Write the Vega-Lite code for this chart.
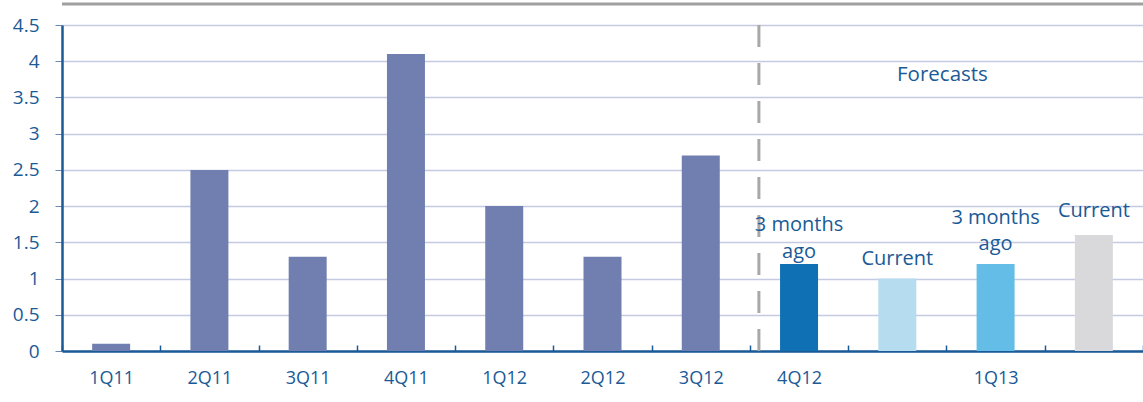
{
  "$schema": "https://vega.github.io/schema/vega-lite/v6.json",
  "width": 1081,
  "height": 326,
  "autosize": {"type": "none"},
  "padding": {"left": 62, "top": 25, "right": 0, "bottom": 51},
  "background": "white",
  "config": {
    "font": "Open Sans",
    "view": {"stroke": null},
    "axisY": {
      "labelFont": "Open Sans", "labelColor": "#1a5a96", "labelFontSize": 19,
      "gridColor": "#c5cae3", "gridWidth": 1.5,
      "domainColor": "#1a5a96", "domainWidth": 2.5,
      "tickColor": "#6a88b8", "tickSize": 7, "labelPadding": 16
    },
    "axisX": {
      "labelFont": "Open Sans", "labelColor": "#1a5a96", "labelFontSize": 18,
      "domainColor": "#1a5a96", "domainWidth": 2.5,
      "tickColor": "#1a5a96", "tickWidth": 1.5, "labelPadding": 24
    }
  },
  "data": {
    "values": [
      {"k": "1Q11", "v": 0.1, "s": "hist"},
      {"k": "2Q11", "v": 2.5, "s": "hist"},
      {"k": "3Q11", "v": 1.3, "s": "hist"},
      {"k": "4Q11", "v": 4.1, "s": "hist"},
      {"k": "1Q12", "v": 2.0, "s": "hist"},
      {"k": "2Q12", "v": 1.3, "s": "hist"},
      {"k": "3Q12", "v": 2.7, "s": "hist"},
      {"k": "4Q12", "v": 1.2, "s": "4Q12 3m", "note": ["3 months", "ago"]},
      {"k": "f2", "v": 1.0, "s": "4Q12 cur", "note": ["Current"]},
      {"k": "1Q13", "v": 1.2, "s": "1Q13 3m", "note": ["3 months", "ago"]},
      {"k": "f4", "v": 1.6, "s": "1Q13 cur", "note": ["Current"]}
    ]
  },
  "layer": [
    {
      "mark": {"type": "bar", "size": 38},
      "encoding": {
        "x": {
          "field": "k", "type": "nominal", "sort": null,
          "scale": {"paddingInner": 0, "paddingOuter": 0},
          "axis": {
            "title": null, "labelAngle": 0, "grid": false,
            "tickBand": "extent", "tickSize": -6,
            "labelExpr": "datum.value == 'f2' || datum.value == 'f4' ? '' : datum.value"
          }
        },
        "y": {
          "field": "v", "type": "quantitative",
          "scale": {"domain": [0, 4.5], "nice": false},
          "axis": {"title": null, "tickCount": 10, "labelExpr": "datum.value"}
        },
        "color": {
          "field": "s", "type": "nominal", "legend": null,
          "scale": {
            "domain": ["hist", "4Q12 3m", "4Q12 cur", "1Q13 3m", "1Q13 cur"],
            "range": ["#717fb0", "#0f70b4", "#b6dcf0", "#64bde6", "#d9d9db"]
          }
        }
      }
    },
    {
      "data": {"values": [{}]},
      "mark": {"type": "rule", "color": "#a8a8a8", "strokeWidth": 3, "strokeDash": [22, 16], "xOffset": 9},
      "encoding": {
        "x": {"datum": "4Q12", "bandPosition": 0},
        "y": {"datum": 4.5},
        "y2": {"datum": 0}
      }
    },
    {
      "data": {"values": [{}]},
      "mark": {"type": "rule", "color": "#a0a0a0", "strokeWidth": 3},
      "encoding": {"y": {"datum": 4.79}}
    },
    {
      "data": {"values": [{}]},
      "mark": {"type": "text", "font": "Open Sans", "fontSize": 20.5, "color": "#1a5a96", "baseline": "alphabetic", "dx": -4},
      "encoding": {
        "x": {"datum": "f2", "bandPosition": 1},
        "y": {"datum": 3.73},
        "text": {"value": "Forecasts"}
      }
    },
    {
      "transform": [{"filter": "datum.k == '4Q12'"}],
      "mark": {"type": "text", "font": "Open Sans", "fontSize": 20, "color": "#1a5a96", "baseline": "bottom", "lineHeight": 27, "dy": -29},
      "encoding": {"x": {"field": "k", "type": "nominal", "sort": null}, "y": {"field": "v", "type": "quantitative"}, "text": {"field": "note"}}
    },
    {
      "transform": [{"filter": "datum.k == 'f2'"}],
      "mark": {"type": "text", "font": "Open Sans", "fontSize": 20, "color": "#1a5a96", "baseline": "bottom", "lineHeight": 27, "dy": -10},
      "encoding": {"x": {"field": "k", "type": "nominal", "sort": null}, "y": {"field": "v", "type": "quantitative"}, "text": {"field": "note"}}
    },
    {
      "transform": [{"filter": "datum.k == '1Q13'"}],
      "mark": {"type": "text", "font": "Open Sans", "fontSize": 20, "color": "#1a5a96", "baseline": "bottom", "lineHeight": 26, "dy": -36},
      "encoding": {"x": {"field": "k", "type": "nominal", "sort": null}, "y": {"field": "v", "type": "quantitative"}, "text": {"field": "note"}}
    },
    {
      "transform": [{"filter": "datum.k == 'f4'"}],
      "mark": {"type": "text", "font": "Open Sans", "fontSize": 20, "color": "#1a5a96", "baseline": "bottom", "lineHeight": 27, "dy": -14},
      "encoding": {"x": {"field": "k", "type": "nominal", "sort": null}, "y": {"field": "v", "type": "quantitative"}, "text": {"field": "note"}}
    }
  ]
}
